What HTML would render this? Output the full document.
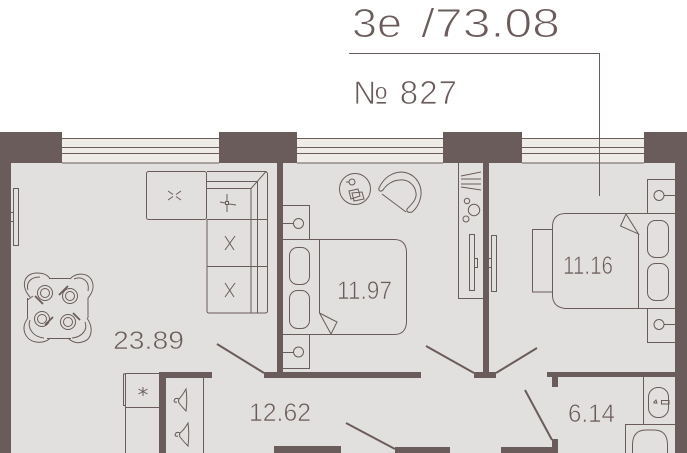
<!DOCTYPE html>
<html><head><meta charset="utf-8"><style>
html,body{margin:0;padding:0;background:#fff;width:687px;height:453px;overflow:hidden}
svg{display:block}
text{font-family:"Liberation Sans",sans-serif;fill:#6a5c5a}
.w{fill:#6a5c5a}
.l{fill:none;stroke:#6a5c5a;stroke-width:1}
.d{stroke:#6a5c5a;stroke-width:2;fill:none}
</style></head><body>
<svg width="687" height="453" viewBox="0 0 687 453">
<rect x="11" y="163" width="664" height="290" fill="#e2e0de"/>
<rect x="62" y="138" width="157" height="25" fill="#efebe7"/>
<rect x="297" y="138" width="146" height="25" fill="#efebe7"/>
<rect x="522" y="138" width="122" height="25" fill="#efebe7"/>
<g class="l">
<path d="M62 138.500H219M62 147.500H219M62 153.500H219M62 163H219M297 138.500H443M297 147.500H443M297 153.500H443M297 163H443M522 138.500H644M522 147.500H644M522 153.500H644M522 163H644"/>
</g>
<g class="w">
<rect x="0" y="132" width="62" height="31"/><rect x="219" y="132" width="78" height="31"/><rect x="443" y="132" width="79" height="31"/><rect x="644" y="132" width="43" height="31"/>
<rect x="0" y="132" width="11" height="321"/><rect x="277" y="163" width="6" height="215"/><rect x="483" y="163" width="6" height="215"/><rect x="675" y="163" width="12" height="290"/>
<rect x="264" y="372" width="157" height="6"/><rect x="474" y="372" width="22" height="6"/><rect x="547" y="372" width="128" height="5"/><rect x="552" y="377" width="6" height="10"/>
<rect x="159" y="372" width="53" height="6"/><rect x="159" y="378" width="7" height="75"/>
<rect x="274" y="446" width="67" height="7"/><rect x="395" y="447" width="55" height="6"/><rect x="501" y="447" width="57" height="6"/><rect x="552" y="439" width="6" height="10"/>
</g>
<path class="d" d="M217 344L264 373M346 423L395 449M426 346L474 373M537 348L496 373M525 390L552 440"/>
<path d="M349 53.500H599.500V196" fill="none" stroke="#6a5c5a"/>

<g class="l">
<!-- sofa -->
<rect x="146.500" y="171.500" width="60" height="48" rx="2"/>
<path d="M207 171.500H266L251 188.500M207 181.500H258M207 188.500H251V313M257.500 181V313M267.500 173V311Q267.500 313 265 313H209Q207 313 207 311V266.500H267M207 219.500H267.500M207 219.500V266"/>
<path d="M266 172L267.500 173"/>
<path d="M168 191L173 194.500M176 196.500L181 200M181 191L176 194.500M173 196.500L168 200M227 194V201M227 205V212M220 202L225 203M229 204L236 205M225 236L234 250M235 236L225 250M225 283L234 297M235 283L225 297"/>
<rect x="225.500" y="201.500" width="3" height="3"/>
<!-- left radiator -->
<rect x="13.500" y="188.500" width="5" height="57"/><path d="M11 212.500H13M11 221.500H13"/>
<!-- table -->
<path d="M49 278.500H70M88 298V318M71 338.500H47M27.500 318V298"/>
<path d="M30 297C20 286 24 273 37 273C43 273 48 275 50 279M28 290C26 283 30 277 40 277M33 296L27.500 300"/>
<path d="M70 279C75 273 86 272 91 279C95 286 93 292 88 298M74 279C81 276 90 280 88 291"/>
<path d="M28 318C20 328 25 340 36 342C42 343 48 341 50 338M30 320C27 328 33 337 44 338"/>
<path d="M87 318C94 328 92 340 82 342C76 344 71 341 68 338M85 322C88 330 82 337 72 338"/>
<circle cx="45" cy="293" r="7.500"/><circle cx="45" cy="293" r="4.500"/>
<circle cx="70" cy="296" r="7.500"/><circle cx="70" cy="296" r="4.500"/>
<circle cx="42" cy="319" r="7.500"/><circle cx="42" cy="319" r="4.500"/>
<circle cx="68" cy="322" r="7.500"/><circle cx="68" cy="322" r="4.500"/>
<path d="M35 296L43 304M59 295L68 286M53 317L45 325M73 313L80 320" stroke-width="1.800"/>
<!-- bedroom 1 -->
<path d="M283 239.500H395Q406 240 406.500 252V322Q406 334 395 334.500H283M319.500 239.500V313"/>
<path d="M319.500 313L337 322L331 334L319.500 313"/>
<rect x="289.500" y="247.500" width="20" height="37" rx="8"/><rect x="289.500" y="290.500" width="20" height="38" rx="8"/>
<path d="M283 205.500H309.500V239M283 223.500H293M283 368.500H309.500V335M283 352.500H293"/>
<circle cx="298.500" cy="223.500" r="5"/><circle cx="298.500" cy="352" r="5"/>
<!-- round table + chair -->
<circle cx="355" cy="189" r="15.500"/><circle cx="352" cy="182" r="3"/><path d="M346 182H349"/>
<path d="M349 191L358 189L360 196L351 199ZM352 193L362 192L364 199L354 201Z"/>
<path d="M379 188C384 177 393 172 402 172C414 173 422 183 421 195C420 203 416 209 412 212C409 213 406 212 407 209C412 204 417 199 416 193C415 185 408 179 400 180C393 180 386 185 383 190C381 192 378 191 379 188ZM382 194L406 212"/>
<!-- wardrobe -->
<path d="M458.500 163V298.500H483"/>
<path d="M461 176L481 172M461 179H481M461 184H481M461 187L481 190"/>
<circle cx="467" cy="201" r="2.700"/><circle cx="474" cy="210" r="5.700"/><circle cx="466" cy="219" r="3"/>
<rect x="469.500" y="234.500" width="5" height="56"/><rect x="474.500" y="258.500" width="3" height="9"/>
<rect x="491.500" y="235.500" width="5" height="56"/><path d="M489 258.500H491M489 267.500H491"/>
<!-- bedroom 2 -->
<path d="M675 213.500H565Q553 214 552.500 226V296Q553 307 565 308.500H675M638.500 234V308"/>
<rect x="532.500" y="229.500" width="20" height="62.500"/>
<path d="M626 214L638.500 234L620.500 226Z"/>
<rect x="647.500" y="220.500" width="21" height="37" rx="8"/><rect x="647.500" y="263.500" width="21" height="37" rx="8"/>
<path d="M675 179.500H647.500V213M675 195.500H664M675 342.500H647.500V308M675 324.500H664"/>
<circle cx="659" cy="195.500" r="5"/><circle cx="659" cy="324.500" r="5"/>
<!-- fridge / kitchen -->
<rect x="125.500" y="373.500" width="34" height="34"/><path d="M125.500 374H123.500V405.500H125.500M125.500 407V453"/>
<path d="M143 387V396M138.500 389L147.500 394M147.500 389L138.500 394"/>
<!-- closet -->
<path d="M203.500 378V453"/>
<path d="M186 389Q182 396 179 399Q178 401 179 403Q182 407 186 411Q187.500 400 186 389ZM179 399Q175 397 174 401Q175 403 177 402"/>
<path d="M188 423Q184 430 180 433Q179 435 180 437Q184 442 188 446Q189.500 434 188 423ZM180 433Q176 431 175 435Q176 437 178 436"/>
<!-- bathroom -->
<path d="M643.500 377V424M625.500 453V424.500H675"/>
<rect x="648.500" y="387.500" width="20" height="30" rx="9.500"/><rect x="661.500" y="400.500" width="7.500" height="3.500"/>
<path d="M632.500 453V444Q633 430 646 430H654Q667 430 667.500 444V453"/>
<path d="M654 402L656 400L657 403L654 403Z"/>
</g>
<g stroke="#e2e0de" stroke-width="0.6">
<text x="352" y="37" font-size="41" textLength="50" lengthAdjust="spacingAndGlyphs" stroke="#fff" stroke-width="1.1">3e</text>
<text x="421" y="37" font-size="41" textLength="139" lengthAdjust="spacingAndGlyphs" stroke="#fff" stroke-width="1.1">/73.08</text>
<text x="353" y="104" font-size="33" textLength="104" lengthAdjust="spacing" stroke="#fff" stroke-width="0.8">№ 827</text>
<text x="113" y="349" font-size="25" textLength="71" lengthAdjust="spacingAndGlyphs">23.89</text>
<text x="337" y="299" font-size="25" textLength="55" lengthAdjust="spacingAndGlyphs">11.97</text>
<text x="563" y="274" font-size="25" textLength="50" lengthAdjust="spacingAndGlyphs">11.16</text>
<text x="249" y="421" font-size="25" textLength="62" lengthAdjust="spacingAndGlyphs">12.62</text>
<text x="568" y="422" font-size="25" textLength="47" lengthAdjust="spacingAndGlyphs">6.14</text>
</g>
</svg>
</body></html>
